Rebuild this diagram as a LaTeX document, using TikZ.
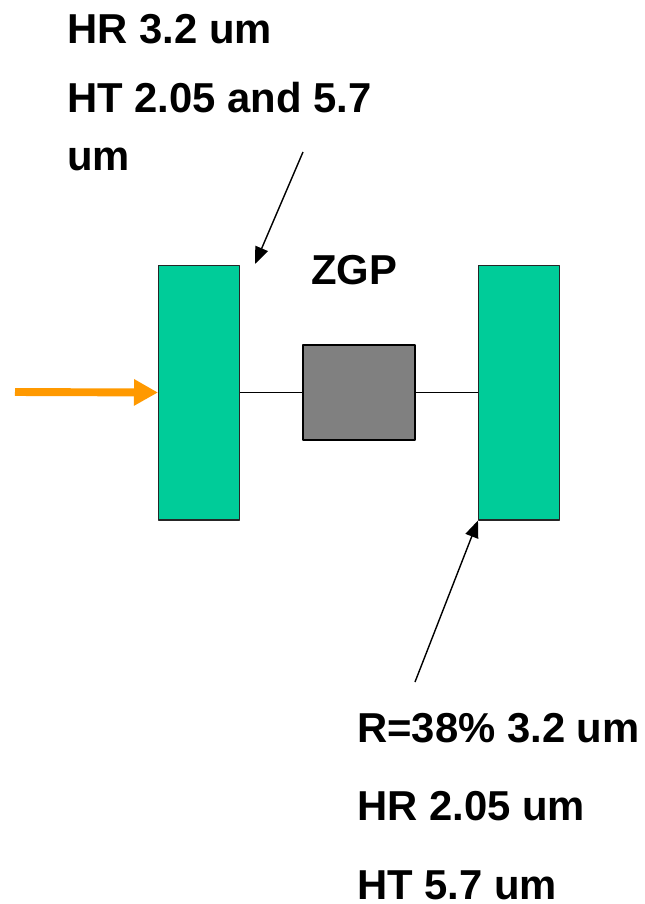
\documentclass[tikz,border=0pt]{standalone}
\usepackage{fontspec}
\setmainfont{Liberation Sans}
\usetikzlibrary{arrows.meta}
\definecolor{mirrorgreen}{HTML}{00CC99}
\definecolor{crystalgray}{HTML}{808080}
\definecolor{pumporange}{HTML}{FF9900}
\begin{document}
\begin{tikzpicture}[x=0.02cm,y=-0.02cm,line join=round,
    mirror/.style={draw=black!85,line width=0.6pt,fill=mirrorgreen,minimum width=1.62cm,minimum height=5.1cm,inner sep=0pt},
    crystal/.style={draw=black,line width=0.6pt,fill=crystalgray,minimum width=2.24cm,minimum height=1.9cm,inner sep=0pt},
    lbl/.style={font=\fontsize{23.8}{33}\selectfont\bfseries,align=left,inner sep=0pt,anchor=base west},
    pointer/.style={-{Triangle[length=0.34cm,width=0.27cm]},line width=0.8pt},
    pump/.style={-{Triangle[length=0.48cm,width=0.5cm]},draw=pumporange,line width=4.5pt}]
\useasboundingbox (0,0) rectangle (645,904);
% cavity
\node[mirror] (M1) at (199,392.5) {};
\node[mirror] (M2) at (519,392.5) {};
\node[crystal] (zgp) at (359,392.5) {};
\draw[line width=0.8pt] (M1.east) -- (zgp.west) (zgp.east) -- (M2.west);
\node[lbl,anchor=base] (zgplbl) at (354,284) {ZGP};
% pump beam
\coordinate (in) at (15,392);
\draw[pump] (in) -- (M1.west);
% mirror specs (base = last line)
\node[lbl] (spec1) at (67,170) {HR 3.2 um\\[6pt]HT 2.05 and 5.7\\um};
\node[lbl] (spec2) at (357,899) {R=38\% 3.2 um\\[11.5pt]HR 2.05 um\\[11.5pt]HT 5.7 um};
\coordinate (p1) at (303,152);
\coordinate (t1) at (255,264);
\coordinate (p2) at (415,682);
\draw[pointer] (p1) -- (t1);
\draw[pointer] (p2) -- (M2.south west);
\end{tikzpicture}
\end{document}
